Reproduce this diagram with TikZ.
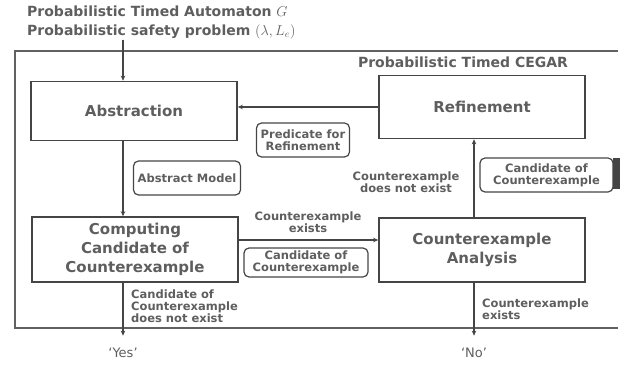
\documentclass[tikz,border=0pt]{standalone}
\usepackage{fontspec}
\setmainfont{DejaVu Sans}
\usetikzlibrary{arrows.meta}
\definecolor{ink}{HTML}{454545}
\definecolor{txt}{HTML}{5E5E5E}
\tikzset{
  procbox/.style = {draw=ink, line width=1.6pt, text=txt, align=center,
                    minimum width=206pt, minimum height=#1,
                    font=\bfseries\fontsize{15}{19}\selectfont},
  procbox/.default = 62pt,
  tagbox/.style = {draw=ink, line width=1.2pt, rounded corners=5pt,
                   text=txt, align=center, inner sep=0pt,
                   font=\bfseries\fontsize{11.5}{12}\selectfont},
  note/.style = {text=txt, inner sep=0pt,
                 font=\bfseries\fontsize{11.5}{12}\selectfont},
  flow/.style = {draw=ink, line width=1.3pt, -{Stealth[length=5pt,width=4.5pt]}}
}

\begin{document}
\begin{tikzpicture}[x=1pt,y=-1pt]
	\useasboundingbox (0,0) rectangle (628,366);

	% Frame (cut off at the right)
	\draw[ink!85, line width=1.2pt] (618,51) -- (15,51) -- (15,328) -- (618,328);
	\fill[ink] (613,158) rectangle (620,189);
	\node[note, font=\bfseries\fontsize{14}{16}\selectfont] (cegar) at (463,62) {Probabilistic Timed CEGAR};

	% Input
	\node[text=txt, anchor=north west, inner sep=0pt, align=left,
	      font=\bfseries\fontsize{14}{19}\selectfont] (input) at (27,6)
	      {Probabilistic Timed Automaton $G$\\Probabilistic safety problem $(\lambda, L_e)$};

	% Steps
	\node[procbox=59pt] (abs) at (134,111) {Abstraction};
	\node[procbox=63pt] (ref) at (482,107) {Refinement};
	\node[procbox=65pt] (comp) at (135,249.5) {Computing\\Candidate of\\Counterexample};
	\node[procbox=64pt] (ana) at (482,250) {Counterexample\\Analysis};

	% Answers
	\node[text=txt, font=\fontsize{13}{15}\selectfont] (yes) at (123,353) {‘Yes’};
	\node[text=txt, font=\fontsize{13}{15}\selectfont] (no) at (474,353) {‘No’};

	% Flow
	\draw[flow] (input.south -| yes) -- (abs.north -| yes);
	\draw[flow] (abs.south -| yes) -- (comp.north -| yes);
	\draw[flow] ([yshift=9.5pt]comp.east) -- ([yshift=9.5pt]comp.east -| ana.west);
	\draw[flow] (ana.north -| no) -- (ref.south -| no);
	\draw[flow] (ref.west) -- (ref.west -| abs.east);
	\draw[flow, shorten >=9pt] (comp.south -| yes) -- (yes.north);
	\draw[flow, shorten >=9pt] (ana.south -| no) -- (no.north);

	% Data on the edges
	\node[tagbox, minimum width=93pt, minimum height=34pt] (pred) at (303,140) {Predicate for\\Refinement};
	\node[tagbox, minimum width=107pt, minimum height=34pt] (absm) at (187,178) {Abstract Model};
	\node[tagbox, minimum width=133pt, minimum height=34pt] (candr) at (546.5,175) {Candidate of\\Counterexample};
	\node[tagbox, minimum width=124pt, minimum height=29pt] (candm) at (306,262.5) {Candidate of\\Counterexample};

	% Conditions
	\node[note, align=center] (noex) at (406,182) {Counterexample\\does not exist};
	\node[note, align=center] (ex) at (308,222) {Counterexample\\exists};
	\node[note, align=left, anchor=west] (nocand) at (131,306.5) {Candidate of\\Counterexample\\does not exist};
	\node[note, align=left, anchor=west] (exno) at (482,309) {Counterexample\\exists};
\end{tikzpicture}
\end{document}
